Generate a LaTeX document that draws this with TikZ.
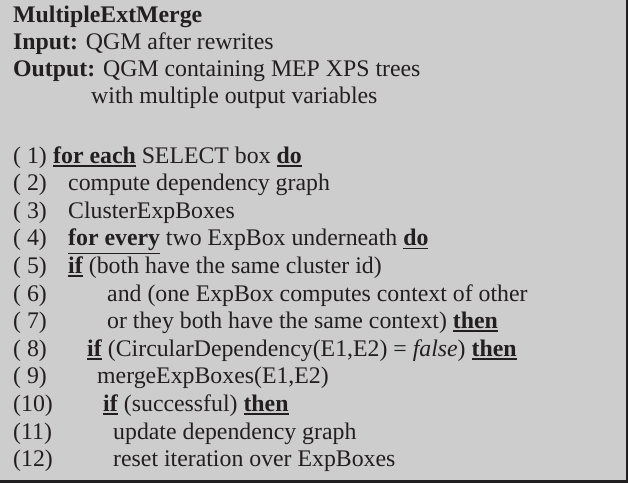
\documentclass[tikz,border=0pt]{standalone}
\usepackage{fontspec}
\setmainfont{Liberation Serif}
\definecolor{boxgray}{HTML}{CDCDCD}
\definecolor{inkgray}{HTML}{231F20}
\newsavebox{\kwbox}
\newcommand{\kw}[1]{\sbox{\kwbox}{\textbf{#1}}%
  \rlap{\raisebox{-\dimexpr\dp\kwbox+3.4pt\relax}{\rule{\wd\kwbox}{1.8pt}}}\usebox{\kwbox}}
\tikzset{
  algline/.style={anchor=base west, inner sep=0pt, text=inkgray,
    font=\fontsize{23.8}{27.6}\selectfont},
}
\begin{document}
\begin{tikzpicture}[x=1pt,y=-1pt]
  % 背景与边框
  \useasboundingbox (0,0) rectangle (628,483);
  \fill[boxgray] (0,0) rectangle (628,483);
  \draw[inkgray, line width=1.5pt] (627.2,0) -- (627.2,483);
  \draw[inkgray, line width=3pt] (0,481.5) -- (628,481.5);
  % 标题
  \node[algline] (title) at (13,22) {\textbf{MultipleExtMerge}};
  \node[algline] (input) at (13,49) {\textbf{Input:} QGM after rewrites};
  \node[algline] (output) at (13,76) {\textbf{Output:} QGM containing MEP XPS trees};
  \node[algline] (outputb) at (91,103) {with multiple output variables};
  % 行号
  \foreach \n in {1,...,12} {
    \ifnum\n<10
      \node[algline] (num\n) at (13,{163+27.6*(\n-1)}) {( \n)};
    \else
      \node[algline] (num\n) at (13,{163+27.6*(\n-1)}) {(\n)};
    \fi
  }
  % 算法各行
  \node[algline] (line1) at (53,163) {\kw{for each} SELECT box \kw{do}};
  \node[algline] (line2) at (68,190.6) {compute dependency graph};
  \node[algline] (line3) at (68,218.2) {ClusterExpBoxes};
  \node[algline] (line4) at (68,245.8) {\kw{for every} two ExpBox underneath \kw{do}};
  \node[algline] (line5) at (68,273.4) {\kw{if} (both have the same cluster id)};
  \node[algline] (line6) at (107,301) {and (one ExpBox computes context of other};
  \node[algline] (line7) at (107,328.6) {or they both have the same context) \kw{then}};
  \node[algline] (line8) at (87,356.2) {\kw{if} (CircularDependency(E1,E2) = \textit{false}) \kw{then}};
  \node[algline] (line9) at (97,383.8) {mergeExpBoxes(E1,E2)};
  \node[algline] (line10) at (103,411.4) {\kw{if} (successful) \kw{then}};
  \node[algline] (line11) at (113,439) {update dependency graph};
  \node[algline] (line12) at (113,466.6) {reset iteration over ExpBoxes};
\end{tikzpicture}
\end{document}
